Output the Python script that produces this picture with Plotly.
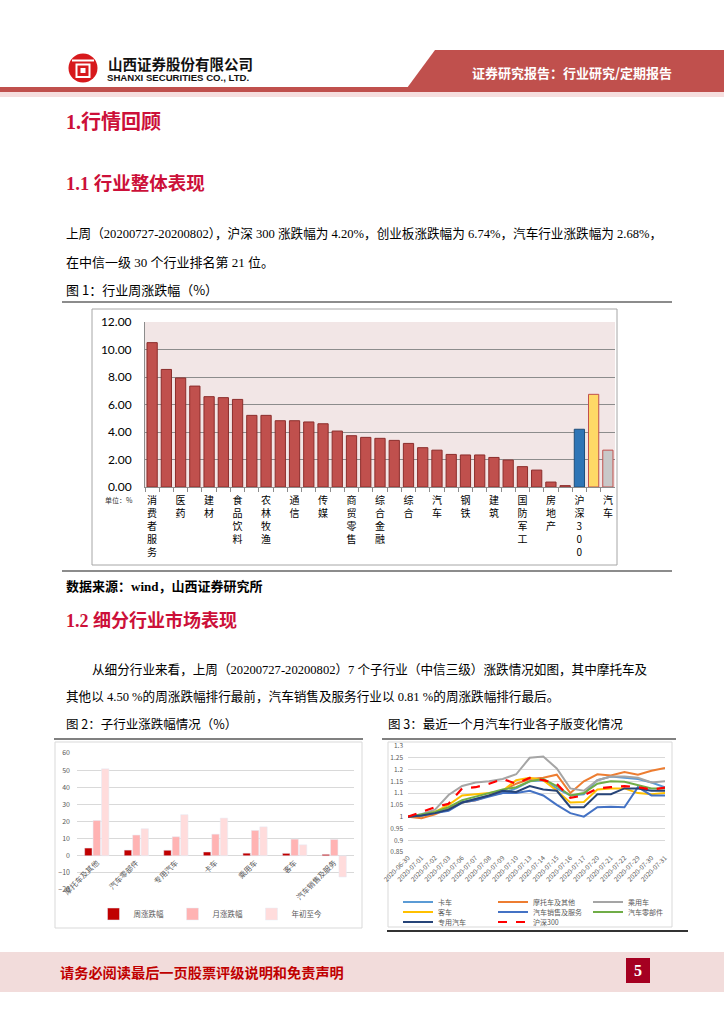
import plotly.graph_objects as go

W, H = 724, 1024

# ---------------- data: Figure 1 ----------------
industries = ["消费者服务", "家电", "医药", "电力设备及新能源", "建材", "电子", "食品饮料", "计算机",
              "农林牧渔", "机械", "通信", "基础化工", "传媒", "轻工制造", "商贸零售", "纺织服装",
              "综合金融", "有色金属", "综合", "非银行金融", "汽车", "交通运输", "钢铁", "电力及公用事业",
              "建筑", "石油石化", "国防军工", "银行", "房地产", "煤炭", "沪深300", "创业板", "汽车行业"]
weekly_change = [10.50, 8.55, 7.93, 7.34, 6.57, 6.50, 6.37, 5.21, 5.21, 4.82,
                 4.82, 4.73, 4.60, 4.07, 3.73, 3.61, 3.54, 3.39, 3.17, 2.86,
                 2.68, 2.37, 2.33, 2.33, 2.15, 1.96, 1.48, 1.23, 0.36, 0.10,
                 4.20, 6.74, 2.68]
industry_tick_labels = ["消费者服务", "", "医药", "", "建材", "", "食品饮料", "", "农林牧渔", "",
                        "通信", "", "传媒", "", "商贸零售", "", "综合金融", "", "综合", "",
                        "汽车", "", "钢铁", "", "建筑", "", "国防军工", "", "房地产", "",
                        "沪深300", "", "汽车"]
fig1_y_ticks = [0, 2, 4, 6, 8, 10, 12]

# ---------------- data: Figure 2 ----------------
sub_industries = ["摩托车及其他", "汽车零部件", "专用汽车", "卡车", "乘用车", "客车", "汽车销售及服务"]
week_chg = [4.50, 3.30, 3.20, 2.20, 1.50, 1.40, 0.81]
month_chg = [20.6, 12.1, 11.1, 12.6, 14.8, 9.7, 9.5]
ytd_chg = [50.8, 15.8, 24.0, 22.0, 16.9, 6.4, -12.4]

# ---------------- data: Figure 3 ----------------
dates = ["2020-06-30", "2020-07-01", "2020-07-02", "2020-07-03", "2020-07-06", "2020-07-07",
         "2020-07-08", "2020-07-09", "2020-07-10", "2020-07-13", "2020-07-14", "2020-07-15",
         "2020-07-16", "2020-07-17", "2020-07-20", "2020-07-21", "2020-07-22", "2020-07-29",
         "2020-07-30", "2020-07-31"]
truck = [1.000, 1.005, 1.015, 1.030, 1.060, 1.075, 1.090, 1.100, 1.120, 1.150,
         1.155, 1.120, 1.090, 1.095, 1.155, 1.170, 1.165, 1.160, 1.145, 1.125]
motorcycle = [1.000, 0.993, 1.010, 1.035, 1.060, 1.070, 1.090, 1.110, 1.140, 1.160,
              1.165, 1.178, 1.100, 1.150, 1.180, 1.175, 1.190, 1.178, 1.195, 1.207]
passenger = [1.000, 1.010, 1.030, 1.092, 1.130, 1.145, 1.150, 1.160, 1.180, 1.250,
             1.255, 1.205, 1.120, 1.110, 1.155, 1.170, 1.170, 1.165, 1.145, 1.150]
bus = [1.000, 1.005, 1.020, 1.050, 1.090, 1.095, 1.100, 1.110, 1.155, 1.165,
       1.155, 1.110, 1.060, 1.062, 1.115, 1.120, 1.120, 1.100, 1.095, 1.100]
sales_service = [1.000, 1.005, 1.015, 1.025, 1.060, 1.070, 1.085, 1.100, 1.100, 1.110,
                 1.090, 1.050, 1.015, 1.000, 1.040, 1.042, 1.040, 1.125, 1.090, 1.090]
auto_parts = [1.000, 1.010, 1.020, 1.040, 1.070, 1.085, 1.100, 1.115, 1.125, 1.150,
              1.160, 1.130, 1.090, 1.100, 1.140, 1.150, 1.148, 1.135, 1.120, 1.120]
special_vehicle = [1.000, 1.005, 1.015, 1.030, 1.060, 1.075, 1.090, 1.110, 1.105, 1.130,
                   1.115, 1.110, 1.040, 1.040, 1.095, 1.095, 1.120, 1.120, 1.110, 1.110]
hs300 = [1.000, 1.020, 1.040, 1.055, 1.120, 1.125, 1.140, 1.160, 1.140, 1.165,
         1.155, 1.140, 1.080, 1.090, 1.120, 1.125, 1.130, 1.125, 1.115, 1.123]


def px(x):
    return x / W


def py(y):
    return 1 - y / H


SERIF = "Liberation Serif, Noto Sans CJK SC"
SANS = "Noto Sans CJK SC, Liberation Sans"
CRIMSON = "#CC1039"

fig = go.Figure()

# ---------- Figure 1 bars ----------
n_ind = 30
fill = ["#C0504D"] * n_ind + ["#2E75B6", "#FFD966", "#C8C8C8"]
edge = ["#8C2D2B"] * n_ind + ["#1F4E79", "#C0504D", "#C0504D"]
fig.add_trace(go.Bar(
    x=industries, y=weekly_change, xaxis="x", yaxis="y",
    marker=dict(color=fill, line=dict(color=edge, width=1)),
    width=0.72, showlegend=False))


def vertical(s):
    return "<br>".join(list(s))


# ---------- Figure 2 bars ----------
fig.add_trace(go.Bar(x=sub_industries, y=week_chg, name="周涨跌幅", xaxis="x2", yaxis="y2",
                     marker_color="#C00000", legend="legend2"))
fig.add_trace(go.Bar(x=sub_industries, y=month_chg, name="月涨跌幅", xaxis="x2", yaxis="y2",
                     marker_color="#FFB3B3", legend="legend2"))
fig.add_trace(go.Bar(x=sub_industries, y=ytd_chg, name="年初至今", xaxis="x2", yaxis="y2",
                     marker_color="#FFDCDC", legend="legend2"))

# ---------- Figure 3 lines ----------
series3 = [
    ("卡车", truck, "#5B9BD5", "solid", "legend3"),
    ("摩托车及其他", motorcycle, "#ED7D31", "solid", "legend3"),
    ("乘用车", passenger, "#A5A5A5", "solid", "legend3"),
    ("客车", bus, "#FFC000", "solid", "legend4"),
    ("汽车销售及服务", sales_service, "#4472C4", "solid", "legend4"),
    ("汽车零部件", auto_parts, "#70AD47", "solid", "legend4"),
    ("专用汽车", special_vehicle, "#264478", "solid", "legend5"),
    ("沪深300", hs300, "#FF0000", "dash", "legend5"),
]
for name, vals, col, dash, lg in series3:
    fig.add_trace(go.Scatter(x=dates, y=vals, name=name, mode="lines", xaxis="x3", yaxis="y3",
                             line=dict(color=col, width=2 if dash == "solid" else 2.2, dash=dash),
                             legend=lg))

# ---------- shapes ----------
shapes = []


def rect(x0, y0, x1, y1, fillc=None, linec=None, lw=0, layer="below"):
    shapes.append(dict(type="rect", xref="paper", yref="paper",
                       x0=px(x0), x1=px(x1), y0=py(y1), y1=py(y0),
                       fillcolor=fillc if fillc else "rgba(0,0,0,0)",
                       line=dict(color=linec if linec else "rgba(0,0,0,0)", width=lw),
                       layer=layer))


def hline(x0, x1, y, color, lw):
    shapes.append(dict(type="line", xref="paper", yref="paper",
                       x0=px(x0), x1=px(x1), y0=py(y), y1=py(y),
                       line=dict(color=color, width=lw)))


def poly(points, fillc):
    d = "M " + " L ".join(f"{px(a):.5f},{py(b):.5f}" for a, b in points) + " Z"
    shapes.append(dict(type="path", xref="paper", yref="paper", path=d,
                       fillcolor=fillc, line=dict(width=0), layer="below"))


# header
poly([(435, 50), (724, 50), (724, 88), (407, 88)], "#C0504D")
rect(0, 87, 724, 92, fillc="#C0504D")
rect(0, 92, 724, 97, fillc="#F6DEDE")
# logo
shapes.append(dict(type="circle", xref="paper", yref="paper",
                   x0=px(68.5), x1=px(97.5), y0=py(82.5), y1=py(53.5),
                   fillcolor="#D7191C", line=dict(width=0), layer="above"))
rect(72, 59.5, 94, 61.5, fillc="white", layer="above")
rect(76.5, 64.5, 89.5, 77, linec="white", lw=2, layer="above")
rect(80.5, 68, 85.5, 73, fillc="white", layer="above")
# figure 1 frame
hline(62, 672, 302, "#666666", 1.6)
rect(92, 309, 617, 565, linec="#A6A6A6", lw=1)
rect(145, 322, 615, 487, fillc="#F2E6E6")
hline(62, 672, 571, "#666666", 1.6)
# figure 2 / 3 frames
hline(54, 363, 739, "#808080", 2)
hline(382, 676, 739, "#808080", 2)
rect(55, 742, 362, 928, linec="#D9D9D9", lw=1)
rect(388, 742, 672, 927, linec="#D9D9D9", lw=1)
hline(387, 688, 931, "#333333", 2)
# footer
rect(0, 952, 724, 992, fillc="#F2DCDB")
rect(626, 958, 650, 983, fillc="#A50021")

# ---------- annotations ----------
ann = []


def txt(x, y, s, size, color="#000000", family=SERIF, xanchor="left", yanchor="middle"):
    ann.append(dict(x=px(x), y=py(y), xref="paper", yref="paper", text=s, showarrow=False,
                    xanchor=xanchor, yanchor=yanchor,
                    font=dict(size=size, color=color, family=family)))


txt(106, 63, "<b>山西证券股份有限公司</b>", 14.5, "#111111", SANS)
txt(105, 77, "<b>SHANXI SECURITIES CO., LTD.</b>", 9.6, "#111111",
    "Liberation Sans Narrow, Liberation Sans")
txt(470, 72, "<b>证券研究报告：行业研究/定期报告</b>", 13, "white", SANS)

txt(64, 122, "<b>1.行情回顾</b>", 20, CRIMSON)
txt(64, 183, "<b>1.1 行业整体表现</b>", 18.5, CRIMSON)
txt(64, 233, "上周（20200727-20200802），沪深 300 涨跌幅为 4.20%，创业板涨跌幅为 6.74%，汽车行业涨跌幅为 2.68%，",
    12.6)
txt(64, 262, "在中信一级 30 个行业排名第 21 位。", 13)
txt(64, 289, "图 1：行业周涨跌幅（%）", 13, family=SANS)
txt(103, 500, "单位：%", 7, "#333333", SANS)
txt(64, 586, "<b>数据来源：wind，山西证券研究所</b>", 13)
txt(64, 620, "<b>1.2 细分行业市场表现</b>", 18, CRIMSON)
txt(90, 669, "从细分行业来看，上周（20200727-20200802）7 个子行业（中信三级）涨跌情况如图，其中摩托车及", 12.6)
txt(64, 696, "其他以 4.50 %的周涨跌幅排行最前，汽车销售及服务行业以 0.81 %的周涨跌幅排行最后。", 12.6)
txt(64, 723, "图 2：子行业涨跌幅情况（%）", 12.5, family=SANS)
txt(386, 723, "图 3：最近一个月汽车行业各子版变化情况", 12.5, family=SANS)
txt(58, 972, "<b>请务必阅读最后一页股票评级说明和免责声明</b>", 14.2, "#C00000", SANS)
txt(638, 970.5, "<b>5</b>", 16, "white", "Liberation Serif", xanchor="center")

GRAY_T = "#595959"

leg_common = dict(orientation="h", xanchor="left", yanchor="middle",
                  font=dict(size=7, family=SANS, color=GRAY_T), bgcolor="rgba(0,0,0,0)",
                  entrywidth=50, entrywidthmode="pixels", itemwidth=30)

fig.update_layout(
    width=W, height=H, autosize=False,
    margin=dict(l=0, r=0, t=0, b=0, autoexpand=False),
    paper_bgcolor="white", plot_bgcolor="rgba(0,0,0,0)",
    hovermode=False,
    barmode="group", bargap=0.36, bargroupgap=0.12,
    shapes=shapes, annotations=ann,
    showlegend=True,
    # ---- Figure 1 axes ----
    xaxis=dict(domain=[px(145), px(615)], anchor="y", type="category",
               tickmode="array", tickvals=industries,
               ticktext=[vertical(t) for t in industry_tick_labels],
               tickangle=0, tickfont=dict(size=10, family=SANS, color="#000000"),
               ticks="outside", ticklen=4, tickcolor="#8C8C8C", tickson="boundaries",
               showline=True, linecolor="#8C8C8C", linewidth=1, showgrid=False,
               range=[-0.5, len(industries) - 0.5], automargin=False, ticklabelstandoff=4),
    yaxis=dict(domain=[py(487), py(322)], anchor="x", range=[0, 12],
               tickmode="array", tickvals=fig1_y_ticks, tickformat=".2f",
               tickfont=dict(size=12, family="Lato, Liberation Sans", color="#000000"),
               showgrid=True, gridcolor="#8C8C8C", gridwidth=1,
               showline=True, linecolor="#8C8C8C", zeroline=False, ticklabelstandoff=10,
               automargin=False),
    # ---- Figure 2 axes ----
    xaxis2=dict(domain=[px(77), px(354)], anchor="free", position=py(856), type="category",
                tickangle=-45, tickfont=dict(size=7.5, family=SANS, color=GRAY_T),
                showgrid=False, showline=False, ticks="", automargin=False),
    yaxis2=dict(domain=[py(890), py(753)], anchor="x2", range=[-20, 60], dtick=10,
                tickfont=dict(size=7, family=SANS, color=GRAY_T),
                showgrid=True, gridcolor="#D9D9D9", zeroline=True, zerolinecolor="#D9D9D9",
                zerolinewidth=1, showline=False, ticklabelstandoff=6, automargin=False),
    # ---- Figure 3 axes ----
    xaxis3=dict(domain=[px(408), px(665)], anchor="y3", type="category",
                tickangle=-45, tickfont=dict(size=6.5, family=SANS, color=GRAY_T),
                showgrid=False, showline=False, ticks="", automargin=False),
    yaxis3=dict(domain=[py(852), py(746)], anchor="x3", range=[0.85, 1.3], dtick=0.05,
                tickfont=dict(size=6.5, family=SANS, color=GRAY_T),
                showgrid=True, gridcolor="#D9D9D9", zeroline=False, showline=False,
                ticklabelstandoff=4, automargin=False),
    legend2=dict(orientation="h", x=px(212), y=py(914), xanchor="center", yanchor="middle",
                 font=dict(size=7.5, family=SANS, color=GRAY_T), bgcolor="rgba(0,0,0,0)",
                 itemwidth=30, entrywidth=34, entrywidthmode="pixels"),
    legend3=dict(x=px(398), y=py(902), **leg_common),
    legend4=dict(x=px(398), y=py(912), **leg_common),
    legend5=dict(x=px(398), y=py(922), **leg_common),
)

fig.write_html("out.html", post_script="document.body.style.margin='0';",
               config={"displayModeBar": False})
